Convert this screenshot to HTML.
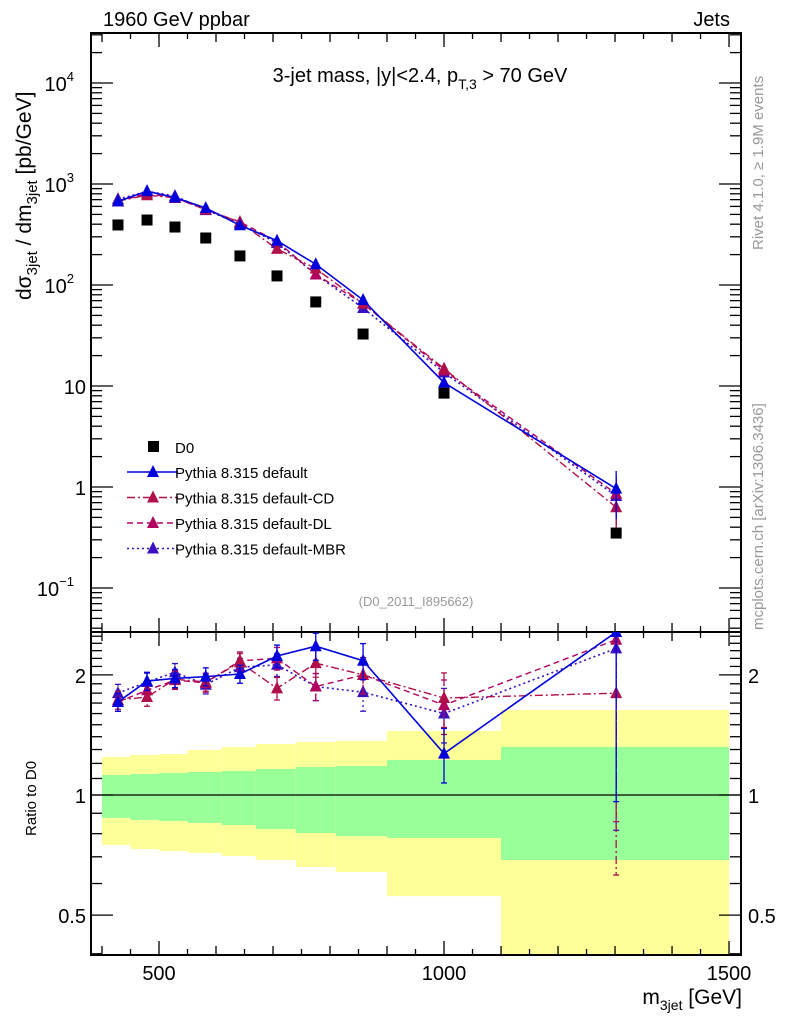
<!DOCTYPE html>
<html><head><meta charset="utf-8">
<style>
html,body{margin:0;padding:0;background:#fff;}
svg{display:block;font-family:"Liberation Sans",sans-serif;}
</style></head>
<body>
<svg id="chart" width="786" height="1024" viewBox="0 0 786 1024" xmlns="http://www.w3.org/2000/svg">
<g id="ratio-bands"></g>
<g id="axes"></g>
<g id="series"></g>
<text x="103" y="26" font-size="20">1960 GeV ppbar</text>
<text x="730" y="26" font-size="20" text-anchor="end">Jets</text>
<text x="420" y="82" font-size="20" text-anchor="middle">3-jet mass, |y|&lt;2.4, p<tspan font-size="14" dy="7">T,3</tspan><tspan dy="-7"> &gt; 70 GeV</tspan></text>
<text x="416" y="606" font-size="13" fill="#999" text-anchor="middle">(D0_2011_I895662)</text>
<text transform="translate(763,250) rotate(-90)" font-size="15" fill="#999">Rivet 4.1.0, ≥ 1.9M events</text>
<text transform="translate(763,630) rotate(-90)" font-size="15" fill="#999">mcplots.cern.ch [arXiv:1306.3436]</text>
<text transform="translate(31,300) rotate(-90)" font-size="21">dσ<tspan font-size="15" dy="6">3jet</tspan><tspan dy="-6"> / dm</tspan><tspan font-size="15" dy="6">3jet</tspan><tspan dy="-6"> [pb/GeV]</tspan></text>
<text transform="translate(36,836) rotate(-90)" font-size="15">Ratio to D0</text>
<text x="742" y="1004" font-size="21" text-anchor="end">m<tspan font-size="14" dy="6">3jet</tspan><tspan dy="-6"> [GeV]</tspan></text>
<g id="legend"></g>
</svg>
<script>
const edges=[400,450,500,550,610,670,740,810,900,1100,1500];
const centers=[428,479,528,582,642,707,775,858,1000,1302];
const dataD0=[393,440,375,292,194,123,68,32.7,8.5,0.35];
const ratioDefault=[1.71,1.93,1.96,1.98,2.01,2.23,2.36,2.17,1.27,2.75];
const ratioCD=[1.73,1.76,1.95,1.92,2.15,1.85,2.14,2.0,1.75,1.80];
const ratioDL=[1.71,1.83,1.94,1.91,2.17,2.2,1.87,2.0,1.68,2.45];
const ratioMBR=[1.80,1.92,2.03,1.89,2.09,2.12,1.87,1.81,1.60,2.33];
const yellowUp=[1.245,1.26,1.267,1.297,1.319,1.342,1.358,1.366,1.447,1.633];
const yellowLow=[0.749,0.732,0.724,0.716,0.703,0.687,0.660,0.641,0.558,0.3];
const greenUp=[1.122,1.129,1.135,1.142,1.148,1.162,1.175,1.182,1.224,1.319];
const greenLow=[0.876,0.866,0.861,0.851,0.841,0.822,0.803,0.789,0.780,0.687];
const relErr=[0.04,0.04,0.04,0.04,0.04,0.05,0.06,0.08,0.12,0.5];
const NS="http://www.w3.org/2000/svg";
const L=91,R=741,T=33,MB=632,RB=955;
const xmin=380.7,xmax=1521;
const X=v=>L+(v-xmin)/(xmax-xmin)*(R-L);
const Y=v=>83+(4-Math.log10(v))*101;
const YR=v=>Math.max(MB,Math.min(RB,795-Math.log10(v)*399));
function el(tag,attrs,parent){const e=document.createElementNS(NS,tag);for(const k in attrs)e.setAttribute(k,attrs[k]);parent.appendChild(e);return e;}
const bands=document.getElementById('ratio-bands');
for(let i=0;i<centers.length;i++){
  const r=el('rect',{x:X(edges[i]),width:X(edges[i+1])-X(edges[i]),y:YR(yellowUp[i]),height:YR(yellowLow[i])-YR(yellowUp[i]),fill:'#ffff99'},bands);
  
  
  const g=el('rect',{x:X(edges[i]),width:X(edges[i+1])-X(edges[i]),y:YR(greenUp[i]),height:YR(greenLow[i])-YR(greenUp[i]),fill:'#99ff99'},bands);
  
  
}
const ax=document.getElementById('axes');
el('line',{x1:L,x2:R,y1:795,y2:795,stroke:'#000','stroke-width':1.2},ax);
el('rect',{x:L,y:T,width:R-L,height:MB-T,fill:'none',stroke:'#000','stroke-width':2},ax);
el('rect',{x:L,y:MB,width:R-L,height:RB-MB,fill:'none',stroke:'#000','stroke-width':2},ax);
for(let v=400;v<=1500;v+=50){
  const len=v%500==0?14:(v%100==0?9:6);const x=X(v);
  [[T,1],[MB,-1],[MB,1],[RB,-1]].forEach(([y0,d])=>el('line',{x1:x,x2:x,y1:y0,y2:y0+d*len,stroke:'#000','stroke-width':1.3},ax));
}
[500,1000,1500].forEach(v=>{const t=el('text',{x:X(v),y:980,'font-size':20,'text-anchor':'middle'},ax);t.textContent=v;

});
for(let e=-2;e<=4;e++){for(let m=1;m<10;m++){const v=m*Math.pow(10,e);const y=Y(v);if(y<T||y>MB)continue;const len=m==1?22:11;
el('line',{x1:L,x2:L+len,y1:y,y2:y,stroke:'#000','stroke-width':1.3},ax);el('line',{x1:R,x2:R-len,y1:y,y2:y,stroke:'#000','stroke-width':1.3},ax);}}
const ylabs=[[1e4,'10','4'],[1e3,'10','3'],[1e2,'10','2'],[10,'10',''],[1,'1',''],[0.1,'10','−1']];
ylabs.forEach(([v,b,s])=>{const t=el('text',{x:s?74:86,y:Y(v)+8,'font-size':20,'text-anchor':'end'},ax);t.textContent=b;


if(s){const u=el('tspan',{'font-size':13,dy:-10},t);u.textContent=s;}});
[0.4,0.5,0.6,0.7,0.8,0.9,1,1.1,1.2,1.3,1.4,1.5,1.6,1.7,1.8,1.9,2,2.1,2.2,2.3,2.4,2.5].forEach(v=>{const y=YR(v);if(y<=MB||y>=RB)return;const len=(v==0.5||v==1||v==2)?22:11;
el('line',{x1:L,x2:L+len,y1:y,y2:y,stroke:'#000','stroke-width':1.3},ax);el('line',{x1:R,x2:R-len,y1:y,y2:y,stroke:'#000','stroke-width':1.3},ax);});
[[2,'2'],[1,'1'],[0.5,'0.5']].forEach(([v,s])=>{[[86,'end'],[748,'start']].forEach(([x,a])=>{const t=el('text',{x:x,y:YR(v)+8,'font-size':20,'text-anchor':a},ax);t.textContent=s;

});});
const S=document.getElementById('series');
const styles=[
 {name:'default',r:ratioDefault,c:'#0000dd',d:'none',w:1.6},
 {name:'default-cd',r:ratioCD,c:'#b0104a',d:'8 3 2 3',w:1.4},
 {name:'default-dl',r:ratioDL,c:'#b00060',d:'6 4',w:1.4},
 {name:'default-mbr',r:ratioMBR,c:'#3a10c0',d:'2 3',w:1.6}];
function tri(g,x,y,c){el('polygon',{points:`${x},${y-7} ${x-6},${y+5} ${x+6},${y+5}`,fill:c},g);}
const clipM=el('clipPath',{id:'cm'},S);el('rect',{x:L,y:T,width:R-L,height:MB-T},clipM);
const clipR=el('clipPath',{id:'cr'},S);el('rect',{x:L,y:MB,width:R-L,height:RB-MB},clipR);
styles.slice().reverse().forEach(s=>{
  const g=el('g',{},S);
  
  
  const mv=s.r.map((r,i)=>r*dataD0[i]);
  const gm=el('g',{'clip-path':'url(#cm)'},g);
  el('polyline',{points:centers.map((c,i)=>X(c)+','+Y(mv[i])).join(' '),fill:'none',stroke:s.c,'stroke-width':s.w,'stroke-dasharray':s.d},gm);
  centers.forEach((c,i)=>{const e=relErr[i];el('line',{x1:X(c),x2:X(c),y1:Y(mv[i]*(1+e)),y2:Y(mv[i]*(1-e)),stroke:s.c,'stroke-width':1.3},gm);tri(gm,X(c),Y(mv[i]),s.c);});
  const gr=el('g',{'clip-path':'url(#cr)'},g);
  el('polyline',{points:centers.map((c,i)=>X(c)+','+YR(s.r[i])).join(' '),fill:'none',stroke:s.c,'stroke-width':s.w,'stroke-dasharray':s.d},gr);
  centers.forEach((c,i)=>{const e=relErr[i]*1.3;el('line',{x1:X(c),x2:X(c),y1:YR(s.r[i]*(1+e)),y2:YR(s.r[i]*(1-e)),stroke:s.c,'stroke-width':1.3,'stroke-dasharray':s.d},gr);
    el('line',{x1:X(c)-3,x2:X(c)+3,y1:YR(s.r[i]*(1+e)),y2:YR(s.r[i]*(1+e)),stroke:s.c,'stroke-width':1.3},gr);
    el('line',{x1:X(c)-3,x2:X(c)+3,y1:YR(s.r[i]*(1-e)),y2:YR(s.r[i]*(1-e)),stroke:s.c,'stroke-width':1.3},gr);
    tri(gr,X(c),YR(s.r[i]),s.c);});
});
const gd=el('g',{},S);


centers.forEach((c,i)=>{el('rect',{x:X(c)-5.5,y:Y(dataD0[i])-5.5,width:11,height:11,fill:'#000'},gd);});
const lg=document.getElementById('legend');
const labels=['Pythia 8.315 default','Pythia 8.315 default-CD','Pythia 8.315 default-DL','Pythia 8.315 default-MBR'];
el('rect',{x:148,y:441,width:11,height:11,fill:'#000'},lg);
let t0=el('text',{x:175,y:453,'font-size':15},lg);t0.textContent='D0';


styles.forEach((s,i)=>{const y=472+i*25.5;
  el('line',{x1:127,x2:178,y1:y,y2:y,stroke:s.c,'stroke-width':s.w,'stroke-dasharray':s.d},lg);
  tri(lg,153,y,s.c);
  const t=el('text',{x:175,y:y+6,'font-size':15},lg);t.textContent=labels[i];
  
  
});
</script>
</body></html>
